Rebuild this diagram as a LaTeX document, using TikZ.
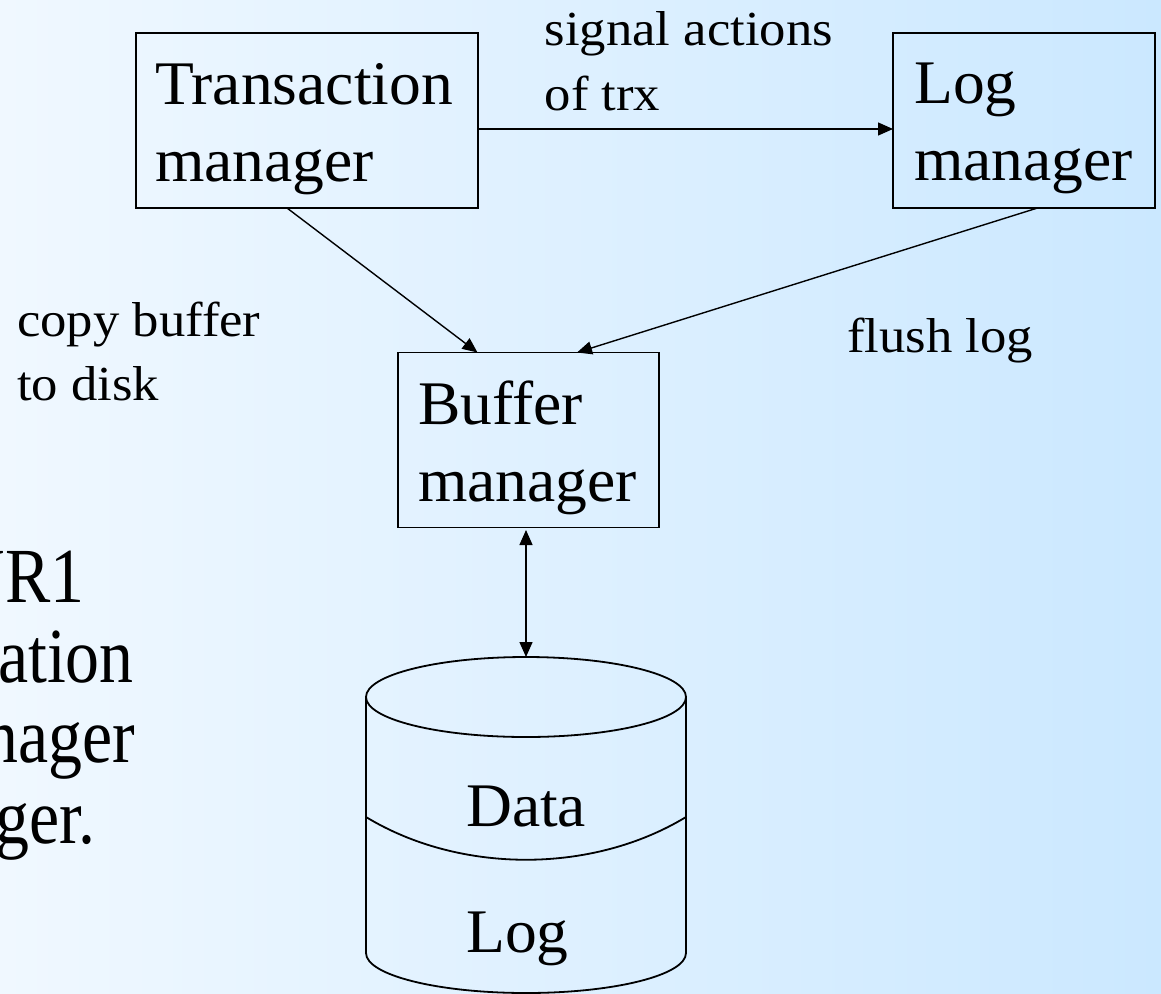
\documentclass[tikz,border=0pt]{standalone}
\usepackage{fontspec}
\setmainfont{Liberation Serif}
\usetikzlibrary{arrows.meta}

\definecolor{bgleft}{RGB}{240,248,255}
\definecolor{bgright}{RGB}{203,232,255}

% two stacked lines, baseline of the node = baseline of the first line
\newcommand\linepair[2]{\vtop{\hbox{#1}\hbox{#2}}}
% horizontal stretch factors for the three text sizes
\newcommand\widebig[1]{\scalebox{1.025}[1]{#1}}
\newcommand\widesmall[1]{\scalebox{1.075}[1]{#1}}
\newcommand\narrowslide[1]{\scalebox{0.87}[1]{#1}}

\tikzset{
  box/.style={draw, line width=1.8pt, anchor=north west, inner sep=0pt, outer sep=0pt},
  bigtext/.style={font=\fontsize{62}{77}\selectfont, inner sep=0pt, anchor=base west},
  smalltext/.style={font=\fontsize{49}{64.5}\selectfont, inner sep=0pt, anchor=base west},
  slidetext/.style={font=\fontsize{78}{80}\selectfont, inner sep=0pt, anchor=base east},
  flow/.style={line width=1.4pt},
  dbline/.style={line width=1.8pt},
}

\begin{document}
\begin{tikzpicture}[x=1pt, y=-1pt, >={Triangle[length=15pt,width=13pt]}]
\useasboundingbox (0,0) rectangle (1161,993);
\clip (0,0) rectangle (1161,993);
\shade[left color=bgleft, right color=bgright] (0,0) rectangle (1161,993);

% slide body text running in from the left edge
\node[slidetext] (s1) at (85,602) {\narrowslide{W\kern2pt R1}};
\node[slidetext] (s2) at (134,682) {\narrowslide{ation}};
\node[slidetext] (s3) at (135,762) {\narrowslide{nager}};
\node[slidetext] (s4) at (96,843) {\narrowslide{ger.}};

% component boxes
\node[box, minimum width=342pt, minimum height=175pt] (tm) at (136,33) {};
\node[box, minimum width=262pt, minimum height=175pt] (lm) at (893,33) {};
\node[box, minimum width=261pt, minimum height=175pt] (bm) at (398,352.5) {};

\node[bigtext] (tmlabel) at (155,104) {\widebig{\linepair{Transaction}{manager}}};
\node[bigtext] (lmlabel) at (914,103) {\widebig{\linepair{Log}{manager}}};
\node[bigtext] (bmlabel) at (418,424) {\widebig{\linepair{Buffer}{manager}}};

% edge labels
\node[smalltext, font=\fontsize{49}{65}\selectfont] (sig) at (544.5,45)
  {\widesmall{\linepair{signal actions}{of trx}}};
\node[smalltext, font=\fontsize{49}{64}\selectfont] (copy) at (17,336.7)
  {\widesmall{\linepair{copy buffer}{to disk}}};
\node[smalltext] (flush) at (847,352.7) {\widesmall{flush log}};

% disk cylinder
\coordinate (dbtop) at (526,657);
\draw[dbline] (526,697) ellipse [x radius=160pt, y radius=40pt];
\draw[dbline] (366,697) -- (366,953)
  arc[start angle=180, end angle=360, x radius=160pt, y radius=40pt] -- (686,697);
\draw[dbline] (366,817) .. controls (460,874) and (592,874) .. (686,817);
\node[bigtext] (data) at (466,826) {\widebig{Data}};
\node[bigtext] (log) at (466,952) {\widebig{Log}};

% connectors
\draw[flow, ->] ([yshift=-8.5pt]tm.east) -- ([yshift=-8.5pt]lm.west);
\draw[flow, ->] ([xshift=-20pt]tm.south) -- ([xshift=-51pt]bm.north);
\draw[flow, ->] ([xshift=13.5pt]lm.south) -- ([xshift=48.5pt]bm.north);
\draw[flow, <->, shorten <=2.5pt] (bm.south -| dbtop) -- (dbtop);
\end{tikzpicture}
\end{document}
